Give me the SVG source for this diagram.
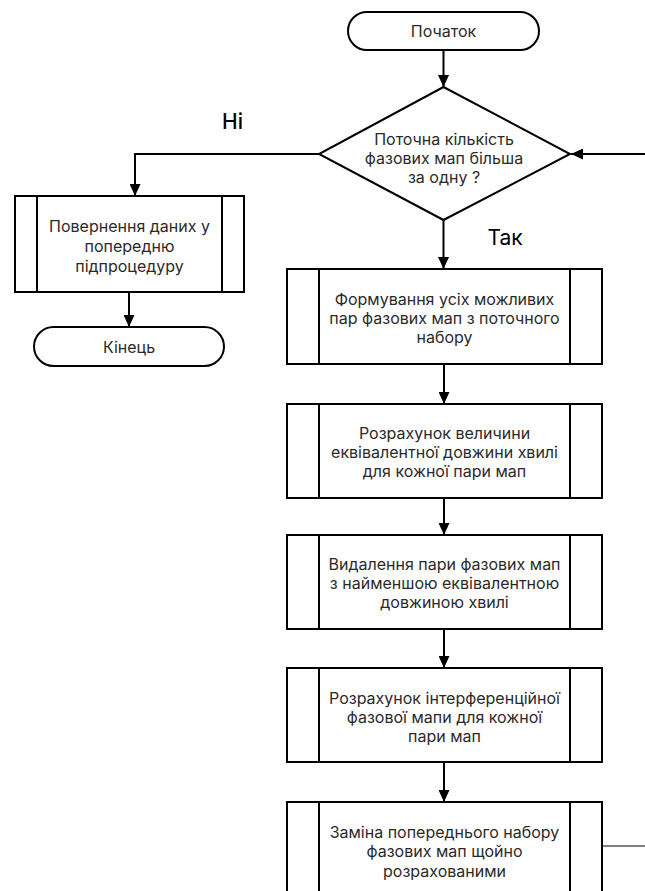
<svg xmlns="http://www.w3.org/2000/svg" width="645" height="891" viewBox="0 0 645 891">
<defs>
<style>
.shape{fill:#fff;stroke:#000;stroke-width:2}
.inner{stroke:#000;stroke-width:2}
.t{font-family:Inter,"Noto Sans","Liberation Sans",sans-serif;font-size:16px;font-weight:400;fill:#2a2a2a;text-anchor:middle;dominant-baseline:central}
.lbl{font-family:Inter,"Noto Sans","Liberation Sans",sans-serif;font-size:21px;fill:#000;text-anchor:middle;dominant-baseline:central}
.c{fill:none;stroke:#000;stroke-width:2}
</style>
<marker id="ah" markerUnits="userSpaceOnUse" markerWidth="12" markerHeight="11" refX="12" refY="5.5" orient="auto" viewBox="0 0 12 11">
<path d="M0,0 L12,5.5 L0,11 z" fill="#000"/>
</marker>
</defs>
<rect width="645" height="891" fill="#fff"/>
<g id="connectors">
<line class="c" x1="443.5" y1="50" x2="443.5" y2="87" marker-end="url(#ah)"/>
<polyline class="c" points="319,154 135,154 135,196" marker-end="url(#ah)"/>
<line class="c" x1="443.5" y1="220" x2="443.5" y2="269" marker-end="url(#ah)"/>
<line class="c" x1="444" y1="364" x2="444" y2="404" marker-end="url(#ah)"/>
<line class="c" x1="444" y1="498" x2="444" y2="535" marker-end="url(#ah)"/>
<line class="c" x1="444" y1="629" x2="444" y2="668" marker-end="url(#ah)"/>
<line class="c" x1="444" y1="762" x2="444" y2="802" marker-end="url(#ah)"/>
<line class="c" x1="129" y1="292" x2="129" y2="327" marker-end="url(#ah)"/>
<line x1="602" y1="846" x2="645" y2="846" stroke="#555" stroke-width="1.5"/>
<line class="c" x1="645" y1="154" x2="571" y2="154" stroke-width="1.5" marker-end="url(#ah)"/>
<text class="lbl" x="232.5" y="121" font-weight="500">Ні</text>
<text class="lbl" x="505" y="237" font-weight="400">Так</text>
</g>
<g id="start">
<rect class="shape" x="348" y="12" width="191" height="38" rx="19"/>
<text class="t" x="443.5" y="31">Початок</text>
</g>
<g id="decision">
<polygon class="shape" stroke-width="1.7" points="443.5,87 570,154 443.5,220 319,154"/>
<text class="t" x="444" y="139">Поточна кількість</text>
<text class="t" x="444" y="158">фазових мап більша</text>
<text class="t" x="444" y="177">за одну ?</text>
</g>
<g id="return">
<rect class="shape" x="15" y="196" width="229" height="96"/>
<line class="inner" x1="37" y1="196" x2="37" y2="292"/>
<line class="inner" x1="222" y1="196" x2="222" y2="292"/>
<text class="t" x="129.5" y="226">Повернення даних у</text>
<text class="t" x="129.5" y="246">попередню</text>
<text class="t" x="129.5" y="266">підпроцедуру</text>
</g>
<g id="end">
<rect class="shape" x="34" y="327" width="190" height="39" rx="19.5"/>
<text class="t" x="129" y="347">Кінець</text>
</g>
<g id="form">
<rect class="shape" x="287" y="269" width="315" height="95"/>
<line class="inner" x1="319" y1="269" x2="319" y2="364"/>
<line class="inner" x1="570" y1="269" x2="570" y2="364"/>
<text class="t" x="444.5" y="299">Формування усіх можливих</text>
<text class="t" x="444.5" y="318">пар фазових мап з поточного</text>
<text class="t" x="444.5" y="337">набору</text>
</g>
<g id="calc-wave">
<rect class="shape" x="287" y="404" width="315" height="94"/>
<line class="inner" x1="319" y1="404" x2="319" y2="498"/>
<line class="inner" x1="570" y1="404" x2="570" y2="498"/>
<text class="t" x="444.5" y="433">Розрахунок величини</text>
<text class="t" x="444.5" y="452">еквівалентної довжини хвилі</text>
<text class="t" x="444.5" y="471">для кожної пари мап</text>
</g>
<g id="remove">
<rect class="shape" x="287" y="535" width="315" height="94"/>
<line class="inner" x1="319" y1="535" x2="319" y2="629"/>
<line class="inner" x1="570" y1="535" x2="570" y2="629"/>
<text class="t" x="444.5" y="564">Видалення пари фазових мап</text>
<text class="t" x="444.5" y="583">з найменшою еквівалентною</text>
<text class="t" x="444.5" y="602">довжиною хвилі</text>
</g>
<g id="calc-interf">
<rect class="shape" x="287" y="668" width="315" height="94"/>
<line class="inner" x1="319" y1="668" x2="319" y2="762"/>
<line class="inner" x1="570" y1="668" x2="570" y2="762"/>
<text class="t" x="444.5" y="698">Розрахунок інтерференційної</text>
<text class="t" x="444.5" y="717">фазової мапи для кожної</text>
<text class="t" x="444.5" y="736">пари мап</text>
</g>
<g id="replace">
<rect class="shape" x="287" y="802" width="315" height="100"/>
<line class="inner" x1="319" y1="802" x2="319" y2="902"/>
<line class="inner" x1="570" y1="802" x2="570" y2="902"/>
<text class="t" x="444.5" y="832">Заміна попереднього набору</text>
<text class="t" x="444.5" y="851">фазових мап щойно</text>
<text class="t" x="444.5" y="871">розрахованими</text>
</g>
</svg>
